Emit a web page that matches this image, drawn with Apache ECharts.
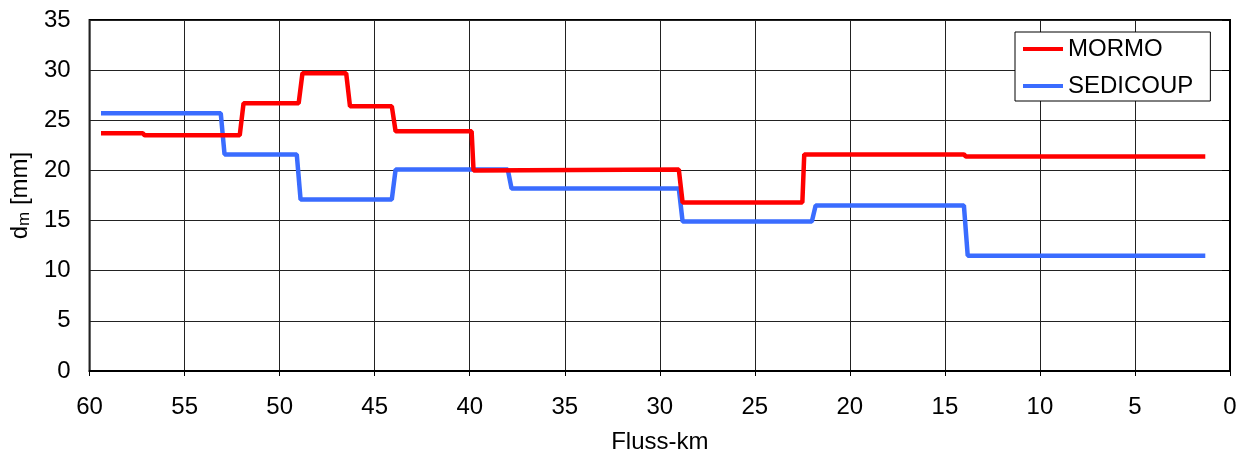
<!DOCTYPE html>
<html>
<head>
<meta charset="utf-8">
<script src="https://cdn.jsdelivr.net/npm/echarts@6/dist/echarts.min.js"></script>
<style>
  html, body { margin: 0; padding: 0; background: #fff; }
  #chart { width: 1253px; height: 459px; }
</style>
</head>
<body>
<div id="chart"></div>
<script>
// River kilometre positions and mean grain size d_m [mm], step profiles
const mormoKm  = [59.4, 57.2, 57.1, 52.1, 51.9, 49.0, 48.8, 46.5, 46.3, 44.1, 43.9, 39.9, 39.8, 29.0, 28.8, 22.5, 22.4, 14.0, 13.9, 1.3];
const mormoDm  = [23.7, 23.7, 23.5, 23.5, 26.7, 26.7, 29.7, 29.7, 26.4, 26.4, 23.9, 23.9, 20.0, 20.1, 16.8, 16.8, 21.6, 21.6, 21.4, 21.4];
const sediKm   = [59.4, 53.1, 52.9, 49.1, 48.9, 44.1, 43.9, 38.0, 37.8, 29.0, 28.8, 22.0, 21.8, 14.0, 13.8, 1.3];
const sediDm   = [25.7, 25.7, 21.6, 21.6, 17.1, 17.1, 20.1, 20.1, 18.2, 18.2, 14.9, 14.9, 16.5, 16.5, 11.5, 11.5];
const seriesNames = ['MORMO', 'SEDICOUP'];
const xTicks = { min: 0, max: 60, interval: 5 };
const yTicks = { min: 0, max: 35, interval: 5 };

const zip = (xs, ys) => xs.map((x, i) => [x, ys[i]]);
const font = 'Liberation Sans, Arial, sans-serif';
const fs = 24;

const chart = echarts.init(document.getElementById('chart'));
chart.setOption({
  animation: false,
  backgroundColor: '#fff',
  grid: {
    left: 88, right: 23, top: 20, bottom: 81,
    show: true, borderColor: '#000', borderWidth: 2, backgroundColor: 'transparent'
  },
  legend: {
    orient: 'vertical',
    left: 1015, top: 32,
    backgroundColor: '#fff',
    borderColor: '#000', borderWidth: 1,
    padding: [5, 17, 3, 8],
    itemGap: 13,
    itemWidth: 40, itemHeight: 4,
    icon: 'rect',
    textStyle: { fontFamily: font, fontSize: fs, color: '#000' },
    data: seriesNames
  },
  xAxis: {
    type: 'value',
    inverse: true,
    min: xTicks.min, max: xTicks.max, interval: xTicks.interval,
    name: 'Fluss-km',
    nameLocation: 'middle',
    nameGap: 59,
    nameTextStyle: { fontFamily: font, fontSize: fs, color: '#000' },
    axisLine: { show: true, onZero: false, lineStyle: { color: '#000', width: 2 } },
    axisTick: { show: true, length: 5, lineStyle: { color: '#000' } },
    axisLabel: { fontFamily: font, fontSize: fs, color: '#000', margin: 24 },
    splitLine: { show: true, lineStyle: { color: '#222', width: 1 } }
  },
  yAxis: {
    type: 'value',
    min: yTicks.min, max: yTicks.max, interval: yTicks.interval,
    name: '{d|d}{s|m}{d| [mm]}',
    nameLocation: 'middle',
    nameGap: 56,
    nameTextStyle: {
      color: '#000',
      rich: {
        d: { fontFamily: font, fontSize: fs, color: '#000' },
        s: { fontFamily: font, fontSize: 17, color: '#000', verticalAlign: 'bottom', padding: [9, 0, 0, 0] }
      }
    },
    axisLine: { show: true, lineStyle: { color: '#000', width: 2 } },
    axisTick: { show: true, length: 8, lineStyle: { color: '#000' } },
    axisLabel: { fontFamily: font, fontSize: fs, color: '#000', margin: 19 },
    splitLine: { show: true, lineStyle: { color: '#222', width: 1 } }
  },
  series: [
    {
      name: seriesNames[0], type: 'line',
      data: zip(mormoKm, mormoDm),
      showSymbol: false, symbol: 'none',
      lineStyle: { color: '#ff0000', width: 4.5 },
      itemStyle: { color: '#ff0000' },
      z: 3
    },
    {
      name: seriesNames[1], type: 'line',
      data: zip(sediKm, sediDm),
      showSymbol: false, symbol: 'none',
      lineStyle: { color: '#3a6cff', width: 4.5 },
      itemStyle: { color: '#3a6cff' },
      z: 2
    }
  ]
});
</script>
</body>
</html>
